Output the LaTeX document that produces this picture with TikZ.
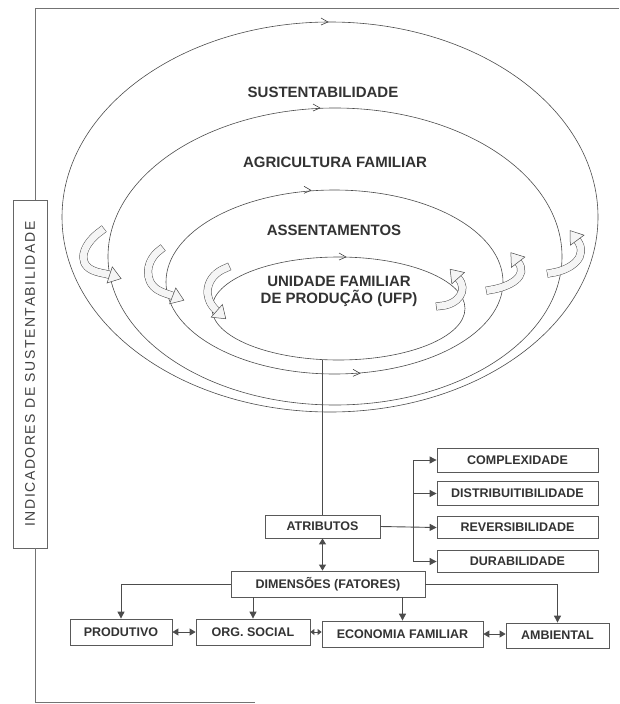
\documentclass[tikz,border=0pt]{standalone}
\usepackage{fontspec}
\setmainfont{Liberation Sans}
\usetikzlibrary{arrows.meta,shapes.geometric,decorations.markings}
\begin{document}
\begin{tikzpicture}[x=1pt,y=-1pt,
  frame/.style={draw=black!55, line width=0.9pt},
  ell/.style={ellipse, draw=black!70, line width=0.6pt, inner sep=0pt},
  big/.style={font=\bfseries\fontsize{15}{17}\selectfont, text=black!80},
  box/.style={draw=black!65, line width=0.8pt, inner sep=0pt, minimum height=23pt, font=\bfseries\fontsize{12.5}{14}\selectfont, text=black!80},
  conn/.style={draw=black!70, line width=0.9pt},
  arr/.style={-{Triangle[length=7pt,width=7pt]}},
  darr/.style={{Triangle[length=6pt,width=7pt]}-{Triangle[length=6pt,width=7pt]}},
  sdarr/.style={{Triangle[length=4pt,width=6pt]}-{Triangle[length=4pt,width=6pt]}},
  chev/.style={draw=black!75, line width=0.6pt},
  chevpic/.pic={\draw[chev] (-4,-4) -- (3,0) -- (-4,3);},
  curl/.style={preaction={draw=black!70, line width=0.5pt, double=black!4, double distance=7pt, line cap=rect},
    postaction={decorate},
    decoration={markings, mark=at position 0.995 with {\draw[black!70, line width=0.5pt, fill=black!4] (0,-8.5) -- (12,0) -- (0,8.5) -- cycle;}}}
]
\useasboundingbox (0,0) rectangle (619,704);

% frame and indicator box
\node[draw=black!60, line width=0.8pt, rotate=90, minimum width=348pt, minimum height=34pt, inner sep=0pt,
  font=\fontsize{14}{16}\selectfont\addfontfeature{LetterSpace=11}, text=black!75] (ind) at (30,374) {INDICADORES DE SUSTENTABILIDADE};
\coordinate (ftl) at (35,8);
\coordinate (ftr) at (619,8);
\coordinate (fbl) at (35,702);
\coordinate (fbr) at (255,702);
\draw[frame] (ftr) -- (ftl) -- (ftl |- ind.east);
\draw[frame] (ftl |- ind.west) -- (fbl) -- (fbr);

% ellipses
\node[ell, minimum width=536pt, minimum height=390pt] (sus) at (330,217) {};
\node[ell, minimum width=454pt, minimum height=297pt] (agr) at (335,256.5) {};
\node[ell, minimum width=337pt, minimum height=184pt] (ass) at (334.5,282) {};
\node[ell, minimum width=253pt, minimum height=103pt] (ufp) at (338.5,308.5) {};

\pic at (325,22) {chevpic};
\pic at (317,108) {chevpic};
\pic at (308,190.3) {chevpic};
\pic at (343,257) {chevpic};
\pic at (357,373.3) {chevpic};

% labels
\node[big] (tsus) at (323,92) {SUSTENTABILIDADE};
\node[big] (tagr) at (335,162) {AGRICULTURA FAMILIAR};
\node[big] (tass) at (334,230) {ASSENTAMENTOS};
\node[big, align=center] (tufp) at (339,291) {UNIDADE FAMILIAR\\DE PRODUÇÃO (UFP)};

% curled arrows
\path[curl] (101,231) .. controls (84,243) and (76,262) .. (92,270) .. controls (98,273) and (104,273) .. (110,275);
\path[curl] (160,250) .. controls (146,260) and (143,281) .. (158,290) .. controls (163,293) and (168,294) .. (173,296);
\path[curl] (226,268) .. controls (205,276) and (202,298) .. (217,311);
\path[curl] (440,306) .. controls (458,305) and (469,290) .. (458,278);
\path[curl] (490,290) .. controls (510,287) and (529,276) .. (518,262);
\path[curl] (551,273) .. controls (572,270) and (589,256) .. (577,240);

% boxes
\node[box, minimum width=115pt] (atr) at (322.5,526.5) {ATRIBUTOS};
\node[box, minimum width=161pt, minimum height=24pt] (comp) at (517.5,460) {COMPLEXIDADE};
\node[box, minimum width=161pt, minimum height=24pt] (dist) at (517.5,493.5) {DISTRIBUITIBILIDADE};
\node[box, minimum width=161pt, minimum height=22pt] (rev) at (517.5,527.5) {REVERSIBILIDADE};
\node[box, minimum width=161pt, minimum height=22pt] (dur) at (517.5,561.5) {DURABILIDADE};
\node[box, minimum width=194pt, minimum height=26pt] (dim) at (328,584) {DIMENSÕES (FATORES)};
\node[box, minimum width=102pt, minimum height=26pt] (prod) at (121,632) {PRODUTIVO};
\node[box, minimum width=114pt, minimum height=26pt] (org) at (253,632) {ORG. SOCIAL};
\node[box, minimum width=161pt, minimum height=26pt] (eco) at (402.5,634) {ECONOMIA FAMILIAR};
\node[box, minimum width=103pt, minimum height=25pt] (amb) at (557.5,635.5) {AMBIENTAL};

% connectors
\draw[conn] (atr.north) -- (atr.north |- ufp.south);
\draw[conn, arr] (atr.east) -- (rev.west);
\coordinate (bx) at (413,0);
\draw[conn] (bx |- comp.west) -- (bx |- dur.west);
\foreach \n in {comp,dist,dur} \draw[conn, arr] (bx |- \n.west) -- (\n.west);
\draw[conn, darr] (atr.south) -- (atr.south |- dim.north);
\draw[conn, arr] (dim.west) -| (prod.north);
\draw[conn, arr] (dim.east) -| (amb.north);
\draw[conn, arr] (org.north |- dim.south) -- (org.north);
\draw[conn, arr] (eco.north |- dim.south) -- (eco.north);
\draw[conn, darr] (prod.east) -- (prod.east -| org.west);
\draw[conn, sdarr] (org.east) -- (org.east -| eco.west);
\draw[conn, darr] (eco.east) -- (eco.east -| amb.west);
\end{tikzpicture}
\end{document}
